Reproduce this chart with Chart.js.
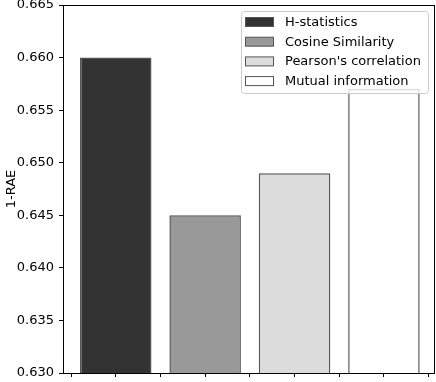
<!DOCTYPE html>
<html>
<head>
<meta charset="utf-8">
<script src="https://cdn.jsdelivr.net/npm/chart.js@4.4.1/dist/chart.umd.min.js"></script>
<style>
  html, body { margin: 0; padding: 0; background: #fff; }
  #wrap { width: 436px; height: 382px; }
</style>
</head>
<body>
<div id="wrap"><canvas id="myChart"></canvas></div>
<script>
// data
var methods = ["H-statistics", "Cosine Similarity", "Pearson's correlation", "Mutual information"];
var scores = [0.660, 0.645, 0.649, 0.657];
var yMin = 0.630, yMax = 0.665, yStep = 0.005;

var fills = ["#333333", "#999999", "#dcdcdc", "#ffffff"];
var edge = "#555555";
var font = "DejaVu Sans";

Chart.defaults.font.family = font;
Chart.defaults.font.size = 13;
Chart.defaults.color = "#000";

var datasets = methods.map(function (m, i) {
    return {
        label: m,
        data: [{ x: i, y: scores[i] }],
        backgroundColor: fills[i],
        borderColor: edge,
        borderWidth: 1.5,
        grouped: false,
        // ruler spacing is the half-step tick distance, so 1.6 => 0.8 of a slot
        barPercentage: 1.6,
        categoryPercentage: 1
    };
});

// matplotlib-like frame around the plot
var framePlugin = {
    id: 'frame',
    afterDatasetsDraw: function (chart) {
        var a = chart.chartArea, ctx = chart.ctx;
        ctx.save();
        ctx.strokeStyle = "#000";
        ctx.lineWidth = 1;
        ctx.strokeRect(Math.round(a.left) + 0.5, Math.round(a.top) + 0.5,
            Math.round(a.right) - Math.round(a.left), Math.round(a.bottom) - Math.round(a.top));
        ctx.restore();
    }
};

// boxed legend in the upper right corner
var legendPlugin = {
    id: 'boxLegend',
    afterDraw: function (chart) {
        var ctx = chart.ctx;
        var a = chart.chartArea;
        var bx = a.right - 192.5, by = a.top + 6.5, bw = 187, bh = 82;
        ctx.save();
        ctx.beginPath();
        ctx.roundRect(bx, by, bw, bh, 3);
        ctx.fillStyle = "rgba(255,255,255,0.8)";
        ctx.fill();
        ctx.strokeStyle = "#cccccc";
        ctx.lineWidth = 1;
        ctx.stroke();
        ctx.font = "13px '" + font + "'";
        ctx.textBaseline = "middle";
        chart.data.datasets.forEach(function (ds, i) {
            var y0 = by + 6 + i * 19.7;
            ctx.fillStyle = ds.backgroundColor;
            ctx.fillRect(bx + 4, y0, 28, 9);
            ctx.strokeStyle = edge;
            ctx.strokeRect(bx + 4, y0, 28, 9);
            ctx.fillStyle = "#000";
            ctx.fillText(ds.label, bx + 43.5, y0 + 5);
        });
        ctx.restore();
    }
};

new Chart(document.getElementById('myChart'), {
    type: 'bar',
    data: { datasets: datasets },
    plugins: [framePlugin, legendPlugin],
    options: {
        responsive: true,
        maintainAspectRatio: false,
        animation: false,
        layout: { padding: { top: 5, right: 2, left: 0, bottom: 0 } },
        plugins: {
            legend: { display: false },
            tooltip: { enabled: false }
        },
        scales: {
            x: {
                type: 'linear',
                min: -0.59,
                max: 3.56,
                offset: false,
                grid: { offset: false, drawOnChartArea: false, tickLength: 4, tickColor: "#000" },
                border: { color: "#000", width: 1 },
                ticks: { display: false, stepSize: 0.5, includeBounds: false },
                afterFit: function (s) { s.height = 9; }
            },
            y: {
                min: yMin,
                max: yMax,
                grid: { drawOnChartArea: false, tickLength: 4, tickColor: "#000" },
                border: { color: "#000", width: 1 },
                ticks: {
                    stepSize: yStep,
                    padding: 5,
                    color: "#000",
                    callback: function (v) { return v.toFixed(3); }
                },
                title: { display: true, text: '1-RAE', color: "#000", padding: { top: 4, bottom: 4 } },
                afterFit: function (s) {
                    s.width = 63;
                    s.paddingTop = 0;
                    s.paddingBottom = 0;
                }
            }
        }
    }
});
</script>
</body>
</html>
